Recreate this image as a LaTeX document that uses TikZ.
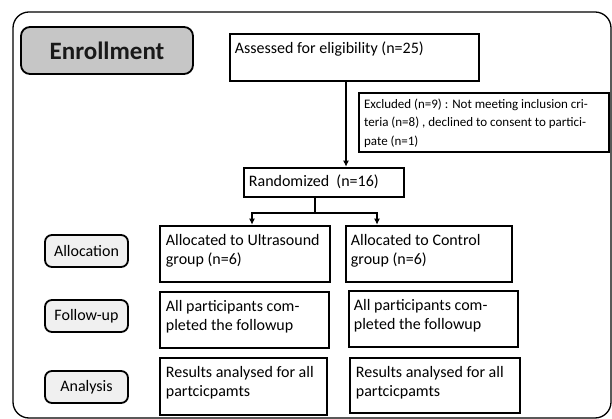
\documentclass[tikz,border=0pt]{standalone}
\usepackage{fontspec}
\setmainfont{Carlito}
\usetikzlibrary{arrows.meta,calc}
\begin{document}
\begin{tikzpicture}[x=1pt,y=-1pt,
  box/.style={draw=black,line width=2.6pt,inner sep=0pt},
  lab/.style={draw=black,line width=1.8pt,rounded corners=7pt,fill=gray!12,inner sep=0pt,
    font={\fontsize{16}{19}\selectfont}},
  txt/.style={anchor=north west,inner sep=0pt,align=left,font={\fontsize{16}{19.5}\selectfont},
    execute at begin node=\strut},
  arr/.style={line width=2.4pt,-{Latex[length=6pt,width=6pt]}},
  ln/.style={line width=2.4pt}]
\useasboundingbox (0,0) rectangle (612,419);
% outer frame
\draw[line width=1.3pt,rounded corners=16pt] (13,12) rectangle (611,418);
% enrollment
\node[draw=black,line width=1.8pt,rounded corners=9pt,fill=gray!45,inner sep=0pt,
  minimum width=172pt,minimum height=47pt,font={\fontsize{25}{30}\selectfont\bfseries},text=black!90]
  (enr) at (107,50.5) {Enrollment};
% main boxes
\node[box,minimum width=249pt,minimum height=47pt] (ass) at (354.5,57.5) {};
\node[txt] (asst) at ($(ass.north west)+(6,6.5)$) {Assessed for eligibility (n=25)};
\node[box,line width=2.2pt,minimum width=250pt,minimum height=59pt] (exc) at (484,122.5) {};
\node[txt,font={\fontsize{13}{18.5}\selectfont}] (exct) at ($(exc.north west)+(6,6.5)$)
  {Excluded (n=9) : Not meeting inclusion cri-\\teria (n=8) , declined to consent to partici-\\pate (n=1)};
\node[box,minimum width=160pt,minimum height=29pt] (rand) at (324,182.5) {};
\node[txt] (randt) at ($(rand.north west)+(6,5.5)$) {Randomized\ \ (n=16)};
\node[box,minimum width=170pt,minimum height=56pt] (us) at (245,254) {};
\node[txt] (ust) at ($(us.north west)+(7,9)$) {Allocated to Ultrasound\\group (n=6)};
\node[box,minimum width=166pt,minimum height=56pt] (ctrl) at (429,254) {};
\node[txt] (ctrlt) at ($(ctrl.north west)+(6,9)$) {Allocated to Control\\group (n=6)};
\node[box,minimum width=169pt,minimum height=56pt] (fu1) at (244.5,320) {};
\node[txt] (fu1t) at ($(fu1.north west)+(7,9)$) {All participants com-\\pleted the followup};
\node[box,minimum width=169pt,minimum height=56pt] (fu2) at (433.5,319) {};
\node[txt] (fu2t) at ($(fu2.north west)+(6,9)$) {All participants com-\\pleted the followup};
\node[box,minimum width=167pt,minimum height=57pt] (an1) at (243.5,386.5) {};
\node[txt] (an1t) at ($(an1.north west)+(7,9)$) {Results analysed for all\\partcicpamts};
\node[box,minimum width=170pt,minimum height=55pt] (an2) at (435,385.5) {};
\node[txt] (an2t) at ($(an2.north west)+(7,9)$) {Results analysed for all\\partcicpamts};
% stage labels
\node[lab,minimum width=83pt,minimum height=32pt] (alloc) at (86.5,251) {Allocation};
\node[lab,minimum width=83pt,minimum height=32pt] (follow) at (86.5,316) {Follow-up};
\node[lab,minimum width=83pt,minimum height=32pt] (anal) at (86.5,387) {Analysis};
% connectors
\coordinate (vx) at (346,0);
\draw[arr] (vx |- ass.south) -- (vx |- rand.north);
\coordinate (split) at (315,213);
\coordinate (lx) at (252,0);
\coordinate (rx) at (377,0);
\draw[ln] (split |- rand.south) -- (split);
\draw[arr] (split) -| (lx |- us.north);
\draw[arr] (split) -| (rx |- ctrl.north);
\end{tikzpicture}
\end{document}
